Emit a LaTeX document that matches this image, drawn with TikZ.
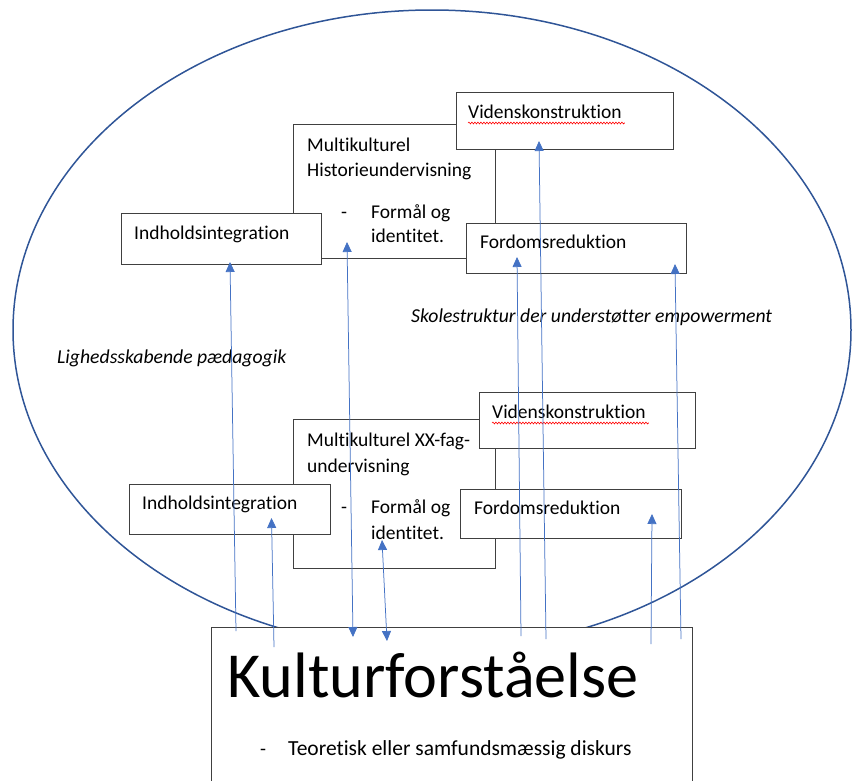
\documentclass[tikz,border=0pt]{standalone}
\usepackage{fontspec}
\setmainfont{Carlito}[Ligatures=NoCommon]
\usetikzlibrary{arrows.meta, positioning, calc, decorations.pathmorphing}

\definecolor{ringblue}{HTML}{2F5597}
\definecolor{arrowblue}{HTML}{4472C4}
\definecolor{boxgray}{HTML}{404040}

\begin{document}
\begin{tikzpicture}[
    x=1pt, y=-1pt,
    box/.style={rectangle, draw=boxgray, line width=0.9pt, fill=white, anchor=north west, inner sep=0pt},
    txt/.style={anchor=base west, inner sep=0pt, font=\fontsize{19.5}{25}\selectfont},
    note/.style={anchor=base west, inner sep=0pt, font=\fontsize{19.7}{23}\selectfont\itshape},
    ring/.style={draw=ringblue, line width=1.5pt},
    arrow/.style={-{Triangle[width=9pt, length=10pt]}, draw=arrowblue, line width=0.75pt},
    dblarrow/.style={{Triangle[width=9pt, length=10pt]}-{Triangle[width=9pt, length=10pt]}, draw=arrowblue, line width=0.75pt},
    squiggle/.style={draw=red, line width=0.6pt, decorate, decoration={snake, amplitude=0.9pt, segment length=3pt}}
]

    \useasboundingbox (0,0) rectangle (852,780);

    % Outer ellipse
    \draw[ring] (432,330) ellipse [x radius=419pt, y radius=320pt];

    % --- Upper group ---
    \node[box, minimum width=202pt, minimum height=134pt] (upMul) at (293,124) {};
    \node[box, minimum width=200pt, minimum height=51pt] (upInd) at (121,213) {};
    \node[box, minimum width=217pt, minimum height=57pt] (upVid) at (456,92) {};
    \node[box, minimum width=220pt, minimum height=50pt] (upFor) at (466,223) {};

    \node[txt] (upMulA) at ($(upMul.north west)+(14,27)$) {Multikulturel};
    \node[txt] (upMulB) at ($(upMul.north west)+(14,52)$) {Historieundervisning};
    \node[txt] (upMulDash) at ($(upMul.north west)+(48,94)$) {-};
    \node[txt] (upMulC) at ($(upMul.north west)+(78,94)$) {Formål og};
    \node[txt] (upMulD) at ($(upMul.north west)+(78,118)$) {identitet.};
    \node[txt] (upIndT) at ($(upInd.north west)+(13,26)$) {Indholdsintegration};
    \node[txt] (upVidT) at ($(upVid.north west)+(12,26)$) {Videnskonstruktion};
    \node[txt] (upForT) at ($(upFor.north west)+(14,25)$) {Fordomsreduktion};
    \draw[squiggle] ($(upVidT.base west)+(0,5)$) -- ($(upVidT.base east)+(3,5)$);

    % --- Lower group ---
    \node[box, minimum width=202pt, minimum height=149pt] (loMul) at (293,419) {};
    \node[box, minimum width=201pt, minimum height=50pt] (loInd) at (129,484) {};
    \node[box, minimum width=216pt, minimum height=56pt] (loVid) at (479,392) {};
    \node[box, minimum width=221pt, minimum height=49pt] (loFor) at (460,489) {};

    \node[txt] (loMulA) at ($(loMul.north west)+(14,27)$) {Multikulturel XX-fag-};
    \node[txt] (loMulB) at ($(loMul.north west)+(14,53)$) {undervisning};
    \node[txt] (loMulDash) at ($(loMul.north west)+(48,94)$) {-};
    \node[txt] (loMulC) at ($(loMul.north west)+(78,94)$) {Formål og};
    \node[txt] (loMulD) at ($(loMul.north west)+(78,120)$) {identitet.};
    \node[txt] (loIndT) at ($(loInd.north west)+(13,25)$) {Indholdsintegration};
    \node[txt] (loVidT) at ($(loVid.north west)+(13,26)$) {Videnskonstruktion};
    \node[txt] (loForT) at ($(loFor.north west)+(14,25)$) {Fordomsreduktion};
    \draw[squiggle] ($(loVidT.base west)+(0,5)$) -- ($(loVidT.base east)+(3,5)$);

    % Italic notes
    \node[note] (skole) at (411,322) {Skolestruktur der understøtter empowerment};
    \node[note] (lighed) at (57,363) {Lighedsskabende pædagogik};

    % --- Bottom box ---
    \node[box, minimum width=481pt, minimum height=170pt] (kult) at (211,627) {};
    \node[txt, font=\fontsize{64.2}{70}\selectfont] (kultT) at ($(kult.north west)+(16,70)$) {Kulturforståelse};
    \node[txt] (kultDash) at ($(kult.north west)+(49,128)$) {-};
    \node[txt, font=\fontsize{21.5}{26}\selectfont] (kultB) at ($(kult.north west)+(77,128)$) {Teoretisk eller samfundsmæssig diskurs};

    % --- Arrows ---
    \coordinate (a1s) at (236,631);
    \coordinate (a1e) at (230,262);
    \coordinate (a2s) at (274,647);
    \coordinate (a2e) at (271.5,518);
    \coordinate (a3s) at (347,242);
    \coordinate (a3e) at (353,637);
    \coordinate (a4s) at (382,540);
    \coordinate (a4e) at (387,641);
    \coordinate (a5s) at (521,636);
    \coordinate (a5e) at (517,257);
    \coordinate (a6s) at (546,639);
    \coordinate (a6e) at (539,141);
    \coordinate (a7s) at (651,644);
    \coordinate (a7e) at (652,514);
    \coordinate (a8s) at (681,639);
    \coordinate (a8e) at (675,264);

    \draw[arrow] (a1s) -- (a1e);
    \draw[arrow] (a2s) -- (a2e);
    \draw[dblarrow] (a3s) -- (a3e);
    \draw[dblarrow] (a4s) -- (a4e);
    \draw[arrow] (a5s) -- (a5e);
    \draw[arrow] (a6s) -- (a6e);
    \draw[arrow] (a7s) -- (a7e);
    \draw[arrow] (a8s) -- (a8e);

\end{tikzpicture}
\end{document}
